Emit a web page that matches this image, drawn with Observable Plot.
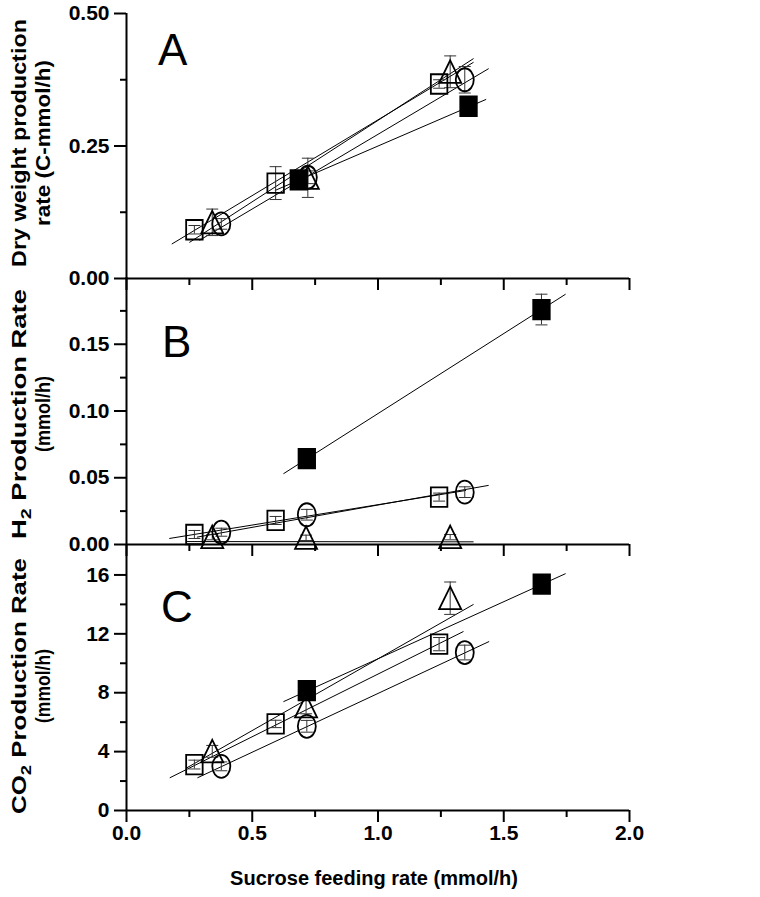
<!DOCTYPE html>
<html>
<head>
<meta charset="utf-8">
<script src="https://cdn.jsdelivr.net/npm/d3@7"></script>
<script src="https://cdn.jsdelivr.net/npm/@observablehq/plot@0.6"></script>
<style>
html,body{margin:0;padding:0;background:#fff;}
#chart{position:relative;width:760px;height:897px;overflow:hidden;background:#fff;}
#chart svg{position:absolute;left:0;overflow:visible;}
</style>
</head>
<body>
<div id="chart"></div>
<script>
// ---------------- data ----------------
const xMajorTicks = [0, 0.5, 1.0, 1.5, 2.0];
const xMinorTicks = [0.25, 0.75, 1.25, 1.75];
const xTickLabels = ["0.0", "0.5", "1.0", "1.5", "2.0"];
const xTitle = "Sucrose feeding rate (mmol/h)";
const panelLetters = ["A", "B", "C"];

// Panel A: dry weight production rate (C-mmol/h)
const aTitle = [["Dry weight production"], ["rate (C-mmol/h)"]];
const aYMajor = [0, 0.25, 0.5];
const aYMinor = [0.125, 0.375];
const aYLabels = ["0.00", "0.25", "0.50"];
const aSquareX = [0.27, 0.593, 1.243];
const aSquareY = [0.092, 0.180, 0.367];
const aSquareErr = [0.008, 0.031, 0.008];
const aCircleX = [0.377, 0.721, 1.345];
const aCircleY = [0.103, 0.191, 0.375];
const aCircleErr = [0.010, 0.012, 0.025];
const aTriangleX = [0.341, 0.721, 1.287];
const aTriangleY = [0.106, 0.190, 0.390];
const aTriangleErr = [0.025, 0.037, 0.030];
const aFilledX = [0.685, 1.360];
const aFilledY = [0.186, 0.325];
const aFilledErr = [0.005, 0.005];
// fitted lines [x1, y1, x2, y2]
const aFitSquare = [0.18, 0.065, 1.38, 0.408];
const aFitCircle = [0.29, 0.072, 1.44, 0.396];
const aFitTriangle = [0.25, 0.068, 1.38, 0.415];
const aFitFilled = [0.59, 0.166, 1.43, 0.338];

// Panel B: H2 production rate (mmol/h)
const bTitle = [["H", "_2", " Production Rate"], ["(mmol/h)"]];
const bYMajor = [0, 0.05, 0.10, 0.15];
const bYMinor = [0.025, 0.075, 0.125, 0.175];
const bYLabels = ["0.00", "0.05", "0.10", "0.15"];
const bSquareX = [0.27, 0.593, 1.243];
const bSquareY = [0.0075, 0.018, 0.0355];
const bSquareErr = [0.003, 0.003, 0.003];
const bCircleX = [0.377, 0.717, 1.345];
const bCircleY = [0.0092, 0.0223, 0.0392];
const bCircleErr = [0.003, 0.004, 0.004];
const bTriangleX = [0.341, 0.714, 1.287];
const bTriangleY = [0.0055, 0.0050, 0.0055];
const bTriangleErr = [0.002, 0.002, 0.002];
const bFilledX = [0.717, 1.650];
const bFilledY = [0.0643, 0.176];
const bFilledErr = [0.002, 0.0115];
const bFitSquare = [0.17, 0.0045, 1.35, 0.0405];
const bFitCircle = [0.28, 0.0055, 1.44, 0.0443];
const bFitTriangle = [0.24, 0.0022, 1.38, 0.0020];
const bFitFilled = [0.624, 0.053, 1.746, 0.1875];

// Panel C: CO2 production rate (mmol/h)
const cTitle = [["CO", "_2", " Production Rate"], ["(mmol/h)"]];
const cYMajor = [0, 4, 8, 12, 16];
const cYMinor = [2, 6, 10, 14];
const cYLabels = ["0", "4", "8", "12", "16"];
const cSquareX = [0.27, 0.593, 1.243];
const cSquareY = [3.12, 5.88, 11.3];
const cSquareErr = [0.3, 0.25, 0.45];
const cCircleX = [0.377, 0.717, 1.345];
const cCircleY = [3.0, 5.72, 10.73];
const cCircleErr = [0.3, 0.4, 0.5];
const cTriangleX = [0.341, 0.714, 1.287];
const cTriangleY = [4.02, 7.07, 14.42];
const cTriangleErr = [0.4, 0.5, 1.1];
const cFilledX = [0.717, 1.651];
const cFilledY = [8.14, 15.37];
const cFilledErr = [0.2, 0.2];
const cFitSquare = [0.172, 2.22, 1.34, 12.16];
const cFitCircle = [0.282, 2.22, 1.442, 11.48];
const cFitTriangle = [0.24, 2.9, 1.38, 14.0];
const cFitFilled = [0.624, 7.39, 1.746, 16.09];

// ---------------- symbols ----------------
const symSquare = {draw(c) { c.moveTo(-8.25, -9.75); c.lineTo(8.25, -9.75); c.lineTo(8.25, 9.75); c.lineTo(-8.25, 9.75); c.closePath(); }};
const symTriangle = {draw(c) { c.moveTo(0, -11.5); c.lineTo(11, 11); c.lineTo(-11, 11); c.closePath(); }};
const symEllipse = {draw(c) {
  const rx = 9, ry = 11.5, k = 0.5523;
  c.moveTo(rx, 0);
  c.bezierCurveTo(rx, ry * k, rx * k, ry, 0, ry);
  c.bezierCurveTo(-rx * k, ry, -rx, ry * k, -rx, 0);
  c.bezierCurveTo(-rx, -ry * k, -rx * k, -ry, 0, -ry);
  c.bezierCurveTo(rx * k, -ry, rx, -ry * k, rx, 0);
  c.closePath();
}};
const symCap = {draw(c) { c.moveTo(-6, 0); c.lineTo(6, 0); }};

const rows = (xs, ys, es) => xs.map((x, i) => ({x, y: ys[i], e: es[i]}));
const fit = (a) => ({x1: a[0], y1: a[1], x2: a[2], y2: a[3]});

const FONT = "'Liberation Sans', Arial, Helvetica, sans-serif";

function panel(cfg) {
  const series = [
    {rows: rows(...cfg.square), sym: symSquare, fill: "none"},
    {rows: rows(...cfg.circle), sym: symEllipse, fill: "none"},
    {rows: rows(...cfg.triangle), sym: symTriangle, fill: "none"},
    {rows: rows(...cfg.filled), sym: symSquare, fill: "black"}
  ];
  const all = series.flatMap(s => s.rows);
  const fits = cfg.fits.map(fit);
  return Plot.plot({
    width: 760,
    height: cfg.height,
    marginLeft: 126,
    marginRight: 131,
    marginTop: cfg.marginTop,
    marginBottom: cfg.marginBottom,
    x: {domain: [0, 2], axis: null, label: null},
    y: {domain: cfg.yDomain, axis: null, label: null},
    style: {background: "transparent", overflow: "visible", font: `bold 21px ${FONT}`, color: "black"},
    marks: [
      Plot.link(fits, {x1: "x1", y1: "y1", x2: "x2", y2: "y2", stroke: "black", strokeWidth: 1}),
      Plot.ruleX(all, {x: "x", y1: d => d.y - d.e, y2: d => d.y + d.e, stroke: "#333", strokeWidth: 1}),
      Plot.dot(all, {x: "x", y: d => d.y + d.e, symbol: symCap, fill: "none", stroke: "#333", strokeWidth: 1}),
      Plot.dot(all, {x: "x", y: d => d.y - d.e, symbol: symCap, fill: "none", stroke: "#333", strokeWidth: 1}),
      ...series.map(s => Plot.dot(s.rows, {x: "x", y: "y", symbol: s.sym, fill: s.fill, stroke: "black", strokeWidth: 1.8})),
      Plot.ruleX([0], {stroke: "black", strokeWidth: 2}),
      Plot.ruleY([cfg.yDomain[0]], {stroke: "black", strokeWidth: 2}),
      Plot.axisY(cfg.yMajor, {tickSize: 12, tickPadding: 5, strokeWidth: 2, label: null,
        tickFormat: d => cfg.yLabels[cfg.yMajor.indexOf(d)], fontSize: 21, fontWeight: "bold", fontFamily: FONT}),
      Plot.axisY(cfg.yMinor, {tickSize: 6, strokeWidth: 2, label: null, tickFormat: () => ""}),
      Plot.axisX(xMajorTicks, {tickSize: 12, tickPadding: 3, strokeWidth: 2, label: null,
        tickFormat: cfg.showX ? (d => xTickLabels[xMajorTicks.indexOf(d)]) : (() => ""),
        fontSize: 21, fontWeight: "bold", fontFamily: FONT}),
      Plot.axisX(xMinorTicks, {tickSize: 7, strokeWidth: 2, label: null, tickFormat: () => ""})
    ]
  });
}

const chart = document.getElementById("chart");
function place(svg, top) { svg.style.top = top + "px"; chart.appendChild(svg); }

place(panel({
  height: 298, marginTop: 13, marginBottom: 20, yDomain: [0, 0.5],
  yMajor: aYMajor, yMinor: aYMinor, yLabels: aYLabels, showX: false,
  square: [aSquareX, aSquareY, aSquareErr], circle: [aCircleX, aCircleY, aCircleErr],
  triangle: [aTriangleX, aTriangleY, aTriangleErr], filled: [aFilledX, aFilledY, aFilledErr],
  fits: [aFitSquare, aFitCircle, aFitTriangle, aFitFilled]
}), 0);

place(panel({
  height: 307, marginTop: 20, marginBottom: 20, yDomain: [0, 0.2],
  yMajor: bYMajor, yMinor: bYMinor, yLabels: bYLabels, showX: false,
  square: [bSquareX, bSquareY, bSquareErr], circle: [bCircleX, bCircleY, bCircleErr],
  triangle: [bTriangleX, bTriangleY, bTriangleErr], filled: [bFilledX, bFilledY, bFilledErr],
  fits: [bFitSquare, bFitCircle, bFitTriangle, bFitFilled]
}), 257);

place(panel({
  height: 372, marginTop: 20, marginBottom: 87, yDomain: [0, 18],
  yMajor: cYMajor, yMinor: cYMinor, yLabels: cYLabels, showX: true,
  square: [cSquareX, cSquareY, cSquareErr], circle: [cCircleX, cCircleY, cCircleErr],
  triangle: [cTriangleX, cTriangleY, cTriangleErr], filled: [cFilledX, cFilledY, cFilledErr],
  fits: [cFitSquare, cFitCircle, cFitTriangle, cFitFilled]
}), 525);

// ---------------- overlay text ----------------
const ov = d3.create("svg").attr("width", 760).attr("height", 897)
  .style("top", "0px").style("font-family", FONT).style("pointer-events", "none");
chart.appendChild(ov.node());

// lines: [first line, second line]; lengths: rendered span of each line
function yTitle(lines, cy, lengths) {
  const xs = [26, 50];
  lines.forEach((parts, i) => {
    const t = ov.append("text")
      .attr("text-anchor", "middle")
      .attr("font-size", 21).attr("font-weight", "bold").attr("fill", "black");
    let n = 0;
    parts.forEach(p => {
      if (p.startsWith("_")) {
        t.append("tspan").attr("font-size", 15).attr("dy", 5).text(p.slice(1));
      } else {
        const s = t.append("tspan").text(p);
        if (n > 0) s.attr("dy", -5);
      }
      n++;
    });
    const natural = t.node().getComputedTextLength() || lengths[i];
    const sx = lengths[i] / natural;
    t.attr("transform", `translate(${xs[i]},${cy}) rotate(-90) scale(${sx},1)`);
  });
}
yTitle(aTitle, 143, [248, 166]);
yTitle(bTitle, 414, [250, 76]);
yTitle(cTitle, 686, [256, 74]);

const letterPos = [[158, 65], [162, 357], [161, 622]];
panelLetters.forEach((L, i) => {
  ov.append("text").attr("x", letterPos[i][0]).attr("y", letterPos[i][1])
    .attr("font-size", 44).attr("font-weight", "normal").attr("fill", "black").text(L);
});

ov.append("text").attr("x", 374).attr("y", 885).attr("text-anchor", "middle")
  .attr("font-size", 20).attr("font-weight", "bold").attr("fill", "black").text(xTitle);
</script>
</body>
</html>
